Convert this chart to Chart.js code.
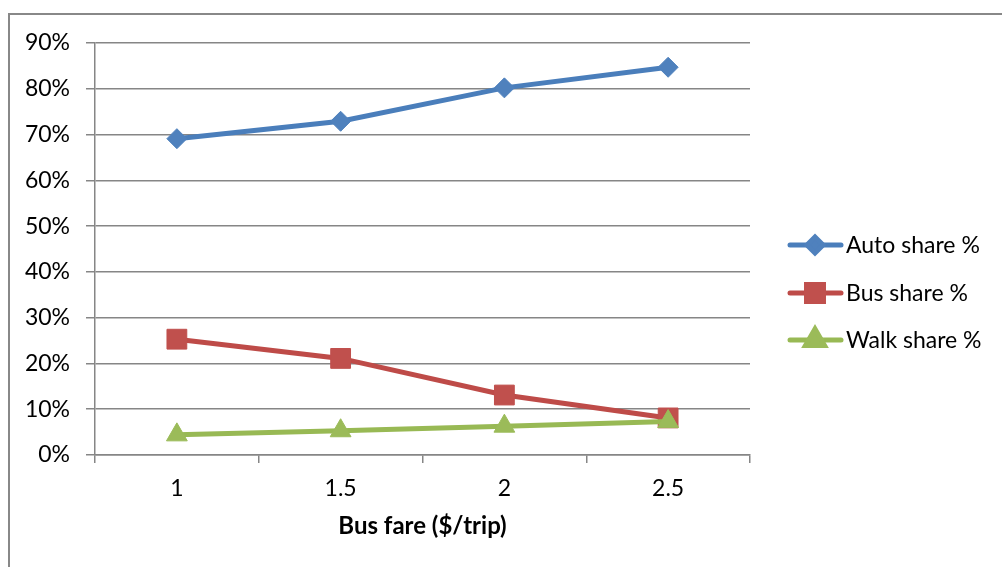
<!DOCTYPE html>
<html>
<head>
<meta charset="utf-8">
<title>Mode share vs bus fare</title>
<script src="https://cdn.jsdelivr.net/npm/chart.js@4.4.1/dist/chart.umd.min.js"></script>
<style>
  html, body { margin: 0; padding: 0; background: #fff; overflow: hidden; }
  #wrap { position: relative; width: 1002px; height: 567px; }
  #frame {
    position: absolute; left: 8px; top: 13px; width: 1100px; height: 700px;
    border: 2px solid #888888; box-sizing: border-box;
  }
  #chart { position: absolute; left: 0; top: 0; }
</style>
</head>
<body>
<div id="wrap">
  <div id="frame"></div>
  <canvas id="chart" width="1002" height="567"></canvas>
</div>
<script>
// Data
const fares = ['1', '1.5', '2', '2.5'];
const autoShare = [69.1, 72.9, 80.2, 84.7];
const busShare = [25.3, 21.1, 13.1, 8.1];
const walkShare = [4.4, 5.3, 6.3, 7.3];
const yTicksMax = 90;
const yTickStep = 10;
const xTitle = 'Bus fare ($/trip)';

const FONT = 'Lato, "Open Sans", "Noto Sans", sans-serif';
const AXIS_GREY = '#868686';

// Legend on the right: line + marker, drawn like the office legend
const sideLegend = {
  id: 'sideLegend',
  afterDraw(chart) {
    const ctx = chart.ctx;
    const rows = [245, 293, 340];
    const sizes = [8, 12, 11];
    chart.data.datasets.forEach((ds, i) => {
      const y = rows[i];
      ctx.save();
      ctx.strokeStyle = ds.borderColor;
      ctx.lineWidth = 5;
      ctx.lineCap = 'round';
      ctx.beginPath();
      ctx.moveTo(790, y);
      ctx.lineTo(841, y);
      ctx.stroke();
      ctx.fillStyle = ds.pointBackgroundColor;
      ctx.strokeStyle = ds.pointBackgroundColor;
      Chart.helpers.drawPoint(ctx, {
        pointStyle: ds.pointStyle,
        radius: sizes[i],
        rotation: 0,
        borderWidth: 1
      }, 815, y);
      ctx.fillStyle = '#000';
      ctx.font = '23px ' + FONT;
      ctx.textBaseline = 'middle';
      ctx.textAlign = 'left';
      ctx.fillText(ds.label, 846, y + 1);
      ctx.restore();
    });
  }
};

function initChart() {
  const ctx = document.getElementById('chart').getContext('2d');
  new Chart(ctx, {
    type: 'line',
    data: {
      labels: fares,
      datasets: [
        {
          label: 'Auto share %',
          data: autoShare,
          borderColor: '#4A7EBB',
          pointBackgroundColor: '#4F81BD',
          pointBorderColor: '#4F81BD',
          pointStyle: 'rectRot',
          pointRadius: 10,
          order: 2
        },
        {
          label: 'Bus share %',
          data: busShare,
          borderColor: '#BE4B48',
          pointBackgroundColor: '#C0504D',
          pointBorderColor: '#C0504D',
          pointStyle: 'rect',
          pointRadius: 14,
          order: 1
        },
        {
          label: 'Walk share %',
          data: walkShare,
          borderColor: '#98B954',
          pointBackgroundColor: '#9BBB59',
          pointBorderColor: '#9BBB59',
          pointStyle: 'triangle',
          pointRadius: 12,
          order: 0
        }
      ]
    },
    options: {
      responsive: false,
      animation: false,
      devicePixelRatio: 1,
      clip: false,
      elements: {
        line: { borderWidth: 5, tension: 0, fill: false },
        point: { borderWidth: 1, hoverRadius: 10 }
      },
      layout: {
        padding: { left: 10, right: 252, top: 43, bottom: 0 }
      },
      plugins: {
        legend: { display: false },
        tooltip: { enabled: false }
      },
      scales: {
        x: {
          offset: true,
          grid: {
            offset: true,
            drawOnChartArea: false,
            tickColor: AXIS_GREY,
            tickLength: 8,
            lineWidth: 1.5
          },
          border: { color: AXIS_GREY, width: 1.5 },
          ticks: {
            color: '#000',
            padding: 12,
            font: { family: FONT, size: 23 }
          },
          title: {
            display: true,
            text: xTitle,
            color: '#000',
            padding: { top: 0, bottom: 26 },
            font: { family: FONT, size: 24, weight: 'bold' }
          },
          afterFit(axis) { axis.height = 567 - 455; }
        },
        y: {
          min: 0,
          max: yTicksMax,
          grid: {
            color: AXIS_GREY,
            tickColor: AXIS_GREY,
            tickLength: 9,
            lineWidth: 1.5
          },
          border: { color: AXIS_GREY, width: 1.5 },
          ticks: {
            stepSize: yTickStep,
            color: '#000',
            padding: 16,
            font: { family: FONT, size: 23 },
            callback: v => v + '%'
          },
          afterFit(axis) { axis.width = 95 - 10; }
        }
      }
    },
    plugins: [sideLegend]
  });
}

document.addEventListener('DOMContentLoaded', initChart);
</script>
</body>
</html>
